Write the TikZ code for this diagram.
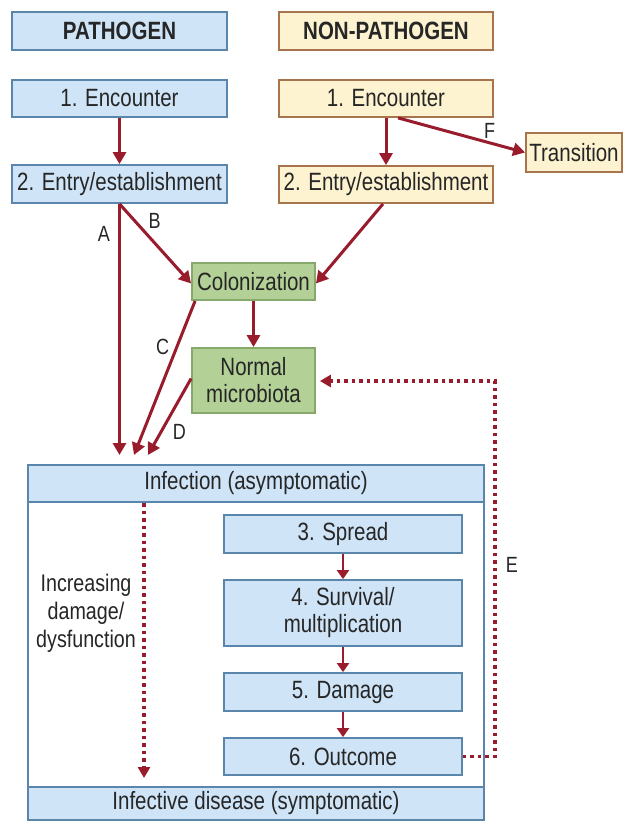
\documentclass[tikz,border=0pt]{standalone}
\usepackage{fontspec}
\setmainfont{Liberation Sans}[FakeStretch=0.82]
\usetikzlibrary{arrows.meta,calc}
\definecolor{bluefill}{HTML}{CFE4F7}
\definecolor{blueline}{HTML}{5A86AC}
\definecolor{yelfill}{HTML}{FDF3D0}
\definecolor{yelline}{HTML}{A8744E}
\definecolor{grnfill}{HTML}{B3D197}
\definecolor{grnline}{HTML}{86A86A}
\definecolor{arrc}{HTML}{981C2C}
\definecolor{txt}{HTML}{262626}
\begin{document}
\begin{tikzpicture}[x=1pt,y=-1pt,
  box/.style={draw, line width=1.8pt, inner sep=0pt, align=center,
    text=txt, font=\fontsize{25}{27}\selectfont},
  bluebox/.style={box, fill=bluefill, draw=blueline},
  yelbox/.style={box, fill=yelfill, draw=yelline},
  grnbox/.style={box, fill=grnfill, draw=grnline},
  arr/.style={draw=arrc, line width=3pt, -{Triangle[length=12pt,width=13pt]}},
  smallarr/.style={draw=arrc, line width=2.6pt, -{Triangle[length=9pt,width=12pt]}},
  dotarr/.style={draw=arrc, line width=3.5pt, dash pattern=on 3.5pt off 4pt,
    -{Triangle[length=11pt,width=12pt]}},
  lbl/.style={text=txt, font=\fontsize{22}{24}\selectfont, inner sep=0pt}]
\useasboundingbox (0,0) rectangle (624,824);

% column headings
\node[bluebox, minimum width=215, minimum height=38, font=\fontsize{25}{27}\selectfont\bfseries]
  (path) at (119.5,31) {PATHOGEN};
\node[yelbox, minimum width=214, minimum height=38, font=\fontsize{25}{27}\selectfont\bfseries]
  (np) at (386,31) {NON-PATHOGEN};

% early steps
\node[bluebox, minimum width=215, minimum height=37] (penc) at (119.5,98.5) {1. Encounter};
\node[bluebox, minimum width=215, minimum height=38] (pent) at (119.5,184) {2. Entry/establishment};
\node[yelbox, minimum width=214, minimum height=37] (nenc) at (386,98.5) {1. Encounter};
\node[yelbox, minimum width=214, minimum height=37] (nent) at (386,184.5) {2. Entry/establishment};
\node[yelbox, minimum width=96, minimum height=39] (trans) at (574,152.5) {Transition};

\node[grnbox, minimum width=123, minimum height=37] (colon) at (253.5,281.5) {Colonization};
\node[grnbox, minimum width=123, minimum height=65] (normal) at (253.5,380.5) {Normal\\microbiota};

% infection frame
\node[draw=blueline, line width=1.8pt, fill=white, minimum width=456, minimum height=355,
  inner sep=0pt] (frame) at (256,642.5) {};
\node[bluebox, minimum width=456, minimum height=37] (inf) at (256,483.5) {Infection (asymptomatic)};
\node[bluebox, minimum width=456, minimum height=33] (dis) at (256,803.5) {Infective disease (symptomatic)};

\node[bluebox, minimum width=238, minimum height=38] (spread) at (343,534) {3. Spread};
\node[bluebox, minimum width=238, minimum height=66] (surv) at (343,613) {4. Survival/\\multiplication};
\node[bluebox, minimum width=238, minimum height=38] (dam) at (343,692) {5. Damage};
\node[bluebox, minimum width=238, minimum height=37] (out) at (343,756.5) {6. Outcome};

\node[lbl, font=\fontsize{24}{28}\selectfont, align=center] (incr) at (86,613)
  {Increasing\\damage/\\dysfunction};

% arrow end points above the infection frame
\coordinate (tipA) at (119.5,455);
\coordinate (tipC) at (134,455);
\coordinate (tipD) at (148,455);
\coordinate (eCorner1) at (495,756.5);
\coordinate (eCorner2) at (495,381);
\coordinate (dTop) at (144,503);
\coordinate (dBot) at (144,778);

% connectors
\draw[arr] (penc.south) -- (pent.north);
\draw[arr] (nenc.south) -- (nent.north);
\draw[arr] ([xshift=12pt]nenc.south) -- node[lbl, pos=0.72, anchor=south, yshift=3pt] (lF) {F} (trans.west);

\draw[arr] (pent.south) -- node[lbl, pos=0.12, anchor=east, xshift=-8pt] (lA) {A} (tipA);
\draw[arr] (pent.south) -- node[lbl, pos=0.33, anchor=south west, xshift=4pt] (lB) {B} ([yshift=-2pt]colon.west);
\draw[arr] ([xshift=-3pt]nent.south) -- ([yshift=-2pt]colon.east);
\draw[arr] (colon.south) -- (normal.north);
\draw[arr] ([xshift=4pt]colon.south west) -- node[lbl, pos=0.30, anchor=east, xshift=-6pt] (lC) {C} (tipC);
\draw[arr] ([yshift=2pt]normal.west) -- node[lbl, pos=0.55, anchor=north west, xshift=4pt, yshift=-2pt] (lD) {D} (tipD);

\draw[smallarr] (spread.south) -- (surv.north);
\draw[smallarr] (surv.south) -- (dam.north);
\draw[smallarr] (dam.south) -- (out.north);

\draw[dotarr] (dTop) -- (dBot);
\draw[dotarr] (out.east) -- (eCorner1) -- node[lbl, pos=0.51, anchor=west, xshift=9pt] (lE) {E} (eCorner2) -- ([xshift=4pt]normal.east |- eCorner2);
\end{tikzpicture}
\end{document}
